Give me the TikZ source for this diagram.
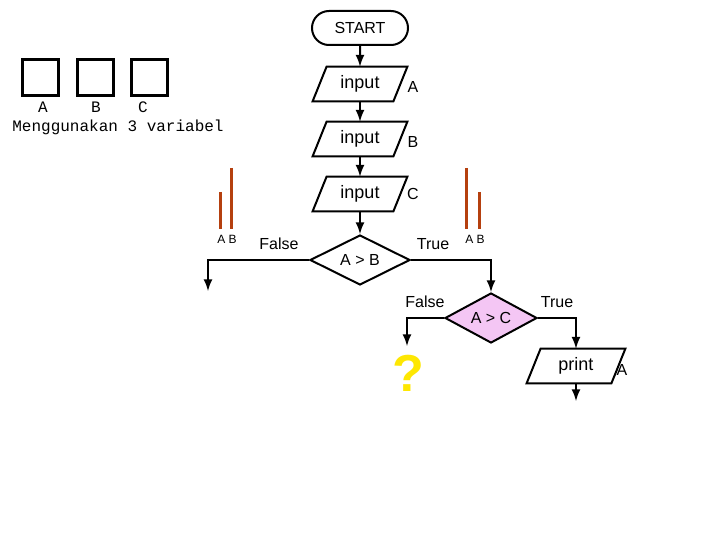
\documentclass[tikz,border=0pt]{standalone}
\usepackage{fontspec}
\setmainfont{Liberation Sans}
\newfontfamily\mono{Liberation Mono}
\usetikzlibrary{shapes.geometric,shapes.misc}
\definecolor{barred}{HTML}{B5400F}
\definecolor{diapink}{HTML}{F4C6F4}
\tikzset{
  box/.style={draw,line width=1pt,inner sep=0pt},
  term/.style={box,rounded rectangle,minimum width=48pt,minimum height=17pt},
  io/.style={inner sep=0pt,minimum width=40pt,minimum height=17pt,font=\fontsize{9}{10}\selectfont,
    append after command={\pgfextra{\draw[line width=1pt]
      ([xshift=3.5pt]\tikzlastnode.north west) -- ([xshift=3.5pt]\tikzlastnode.north east)
      -- ([xshift=-3.5pt]\tikzlastnode.south east) -- ([xshift=-3.5pt]\tikzlastnode.south west) -- cycle;}}},
  test/.style={box,diamond,aspect=2,minimum width=50pt,minimum height=25pt},
  flow/.style={line width=1pt,-latex},
  bar/.style={barred,line width=1.5pt},
  sq/.style={draw,line width=1.5pt,minimum size=18pt},
  mtext/.style={font=\mono\fontsize{8}{9}\selectfont},
}
\begin{document}
\begin{tikzpicture}[x=0.5pt,y=-0.5pt,font=\fontsize{8}{9}\selectfont]
  \useasboundingbox (0,0) rectangle (720,540);
  % flow chart
  \node[term] (start) at (360,28) {START};
  \node[io] (inA) at (360,84) {input};
  \node[io] (inB) at (360,139) {input};
  \node[io] (inC) at (360,194) {input};
  \node at (413,87) {A};
  \node at (413,142) {B};
  \node at (413,194) {C};
  \node[test] (ab) at (360,260) {A > B};
  \node[test,fill=diapink,minimum width=46pt] (ac) at (491,318) {A > C};
  \node[io,minimum width=42pt] (print) at (576,366) {print};
  \node at (622,370) {A};
  \coordinate (endL) at (208,291);
  \coordinate (endQ) at (407,346);
  \coordinate (endP) at (576,401);
  \draw[flow] (start) -- (inA);
  \draw[flow] (inA) -- (inB);
  \draw[flow] (inB) -- (inC);
  \draw[flow] (inC) -- (ab);
  \draw[flow] (ab.west) -| (endL);
  \draw[flow] (ab.east) -| (ac.north);
  \draw[flow] (ac.west) -| (endQ);
  \draw[flow] (ac.east) -| (print.north);
  \draw[flow] (print) -- (endP);
  \node at (279,244) {False};
  \node at (433,244) {True};
  \node at (425,302) {False};
  \node at (557,302) {True};
  \node[font=\bfseries\fontsize{26}{26}\selectfont,text=yellow!90!orange,inner sep=0pt] (q) at (408,373) {?};
  % variables
  \node[sq] (sqA) at (41,78) {};
  \node[sq] (sqB) at (96,78) {};
  \node[sq] (sqC) at (150,78) {};
  \node[mtext] at (43,107) {A};
  \node[mtext] at (96,107) {B};
  \node[mtext] at (143,107) {C};
  \node[mtext] at (118,127) {Menggunakan 3 variabel};
  % bars
  \draw[bar] (221,192) -- (221,229);
  \draw[bar] (232,168) -- (232,229);
  \draw[bar] (467,168) -- (467,229);
  \draw[bar] (480,192) -- (480,229);
  \node[font=\fontsize{6}{7}\selectfont] at (227,239) {A B};
  \node[font=\fontsize{6}{7}\selectfont] at (475,239) {A B};
\end{tikzpicture}
\end{document}
